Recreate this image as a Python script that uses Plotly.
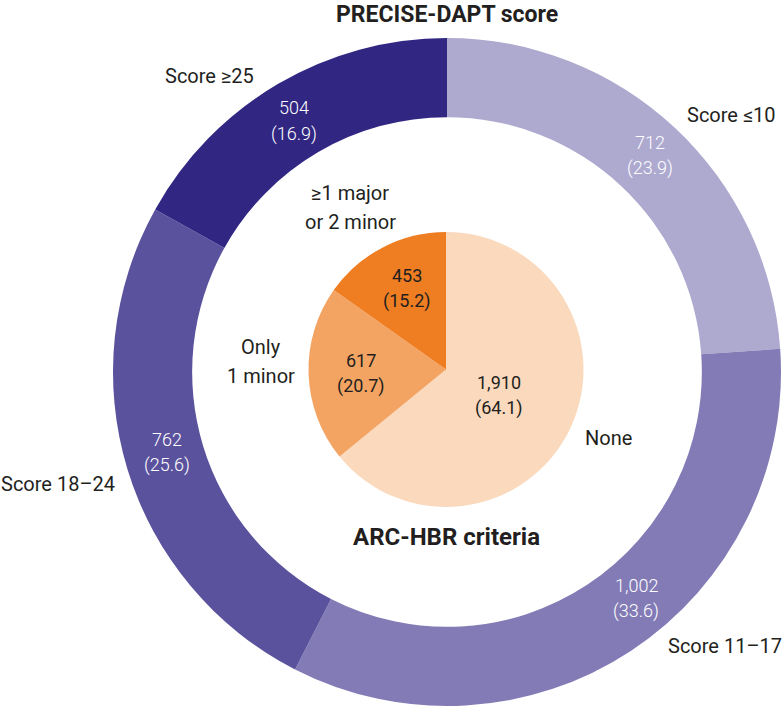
import plotly.graph_objects as go

# ---- data ----
outer_labels = ["Score ≤10", "Score 11–17", "Score 18–24", "Score ≥25"]
outer_counts = [712, 1002, 762, 504]
outer_pct = [23.9, 33.6, 25.6, 16.9]

inner_labels = ["None", "Only 1 minor", "≥1 major or 2 minor"]
inner_counts = [1910, 617, 453]
inner_pct = [64.1, 20.7, 15.2]

outer_title = "PRECISE-DAPT score"
inner_title = "ARC-HBR criteria"

# ---- styling / layout (not data) ----
W, H = 784, 709
outer_colors = ["#ADA9CF", "#837BB6", "#5B529E", "#312783"]
inner_colors = ["#FAD9BD", "#F4A462", "#EF7D22"]
dark = "#231F20"
FONT = "Roboto"

# name label line breaks for display
outer_name_lines = [["Score ≤10"], ["Score 11–17"], ["Score 18–24"], ["Score ≥25"]]
inner_name_lines = [["None"], ["Only", "1 minor"], ["≥1 major", "or 2 minor"]]

# pixel positions of label blocks (first line centre) and line spacing
outer_value_pos = [(650, 142), (636, 585), (167, 439), (294, 108)]
inner_value_pos = [(499, 382), (361, 360), (407, 275)]
outer_name_pos = [(731, 115), (725, 646), (58, 484), (209, 76)]
inner_name_pos = [(608, 438), (261, 347), (350, 193)]
value_gap = 26
name_gap = 29


def px(x, y):
    return x / W, 1 - y / H


def dom(cx, cy, r):
    return dict(x=[(cx - r) / W, (cx + r) / W], y=[1 - (cy + r) / H, 1 - (cy - r) / H])


fig = go.Figure()
fig.add_trace(go.Pie(
    labels=outer_labels, values=outer_counts, sort=False, direction="clockwise",
    rotation=0, hole=0.763, textinfo="none", hoverinfo="label+value+percent",
    marker=dict(colors=outer_colors, line=dict(width=0)),
    domain=dom(447, 372, 334), showlegend=False,
))
fig.add_trace(go.Pie(
    labels=inner_labels, values=inner_counts, sort=False, direction="clockwise",
    rotation=0, textinfo="none", hoverinfo="label+value+percent",
    marker=dict(colors=inner_colors, line=dict(width=0)),
    domain=dom(446, 369.5, 137.5), showlegend=False,
))

ann = []


def add_text(text, x, y, size, color, weight="normal", yanchor="middle"):
    ax, ay = px(x, y)
    ann.append(dict(text=text, x=ax, y=ay, xref="paper", yref="paper",
                    xanchor="center", yanchor=yanchor, showarrow=False, borderpad=0,
                    font=dict(family=FONT, size=size, color=color, weight=weight)))


for c, p, (x, y) in zip(outer_counts, outer_pct, outer_value_pos):
    add_text(f"{c:,}", x, y, 18, "white", 300)
    add_text(f"({p})", x, y + value_gap, 18, "white", 300)
for c, p, (x, y) in zip(inner_counts, inner_pct, inner_value_pos):
    add_text(f"{c:,}", x, y, 18, dark)
    add_text(f"({p})", x, y + value_gap, 18, dark)
for lines, (x, y) in zip(outer_name_lines, outer_name_pos):
    for i, t in enumerate(lines):
        add_text(t, x, y + i * name_gap, 20, dark)
for lines, (x, y) in zip(inner_name_lines, inner_name_pos):
    for i, t in enumerate(lines):
        add_text(t, x, y + i * name_gap, 20, dark)

add_text(outer_title, 447, 0, 23, dark, "bold", yanchor="top")
add_text(inner_title, 446, 537, 24, dark, "bold")

fig.update_layout(
    width=W, height=H, margin=dict(l=0, r=0, t=0, b=0),
    paper_bgcolor="white", plot_bgcolor="white",
    annotations=ann, font=dict(family=FONT),
)
fig.write_html(
    "out.html",
    config={"displayModeBar": False},
    post_script="document.body.style.margin='0px';document.body.style.overflow='hidden';",
)
